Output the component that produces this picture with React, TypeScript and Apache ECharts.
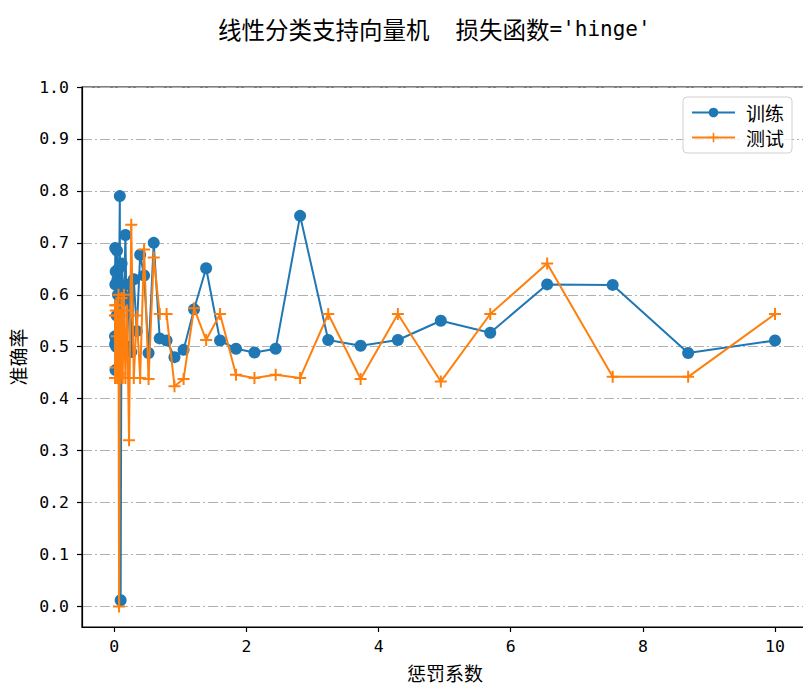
import React, { useEffect, useRef } from "react";
import * as echarts from "echarts";

const penaltyC = [
  0.01, 0.01151, 0.01326, 0.01526, 0.01758, 0.02024, 0.0233, 0.02683, 0.03089, 0.03556,
  0.04095, 0.04715, 0.05429, 0.06251, 0.07197, 0.08286, 0.09541, 0.10985, 0.12649, 0.14563,
  0.16768, 0.19307, 0.2223, 0.25595, 0.29471, 0.33932, 0.39069, 0.44984, 0.51795, 0.59636,
  0.68665, 0.7906, 0.9103, 1.04811, 1.20679, 1.3895, 1.59986, 1.84207, 2.12095, 2.44205,
  2.81177, 3.23746, 3.72759, 4.29193, 4.94171, 5.68987, 6.55129, 7.54312, 8.68511, 10.0,
];

const trainAcc = [
  0.52, 0.505, 0.69, 0.62, 0.455, 0.645, 0.51, 0.62, 0.5, 0.56,
  0.685, 0.63, 0.6, 0.65, 0.62, 0.79, 0.012, 0.66, 0.6, 0.59,
  0.715, 0.5, 0.62, 0.49, 0.63, 0.53, 0.677, 0.637, 0.488, 0.7,
  0.516, 0.512, 0.48, 0.494, 0.572, 0.651, 0.512, 0.496, 0.489, 0.496,
  0.752, 0.513, 0.502, 0.513, 0.55, 0.527, 0.62, 0.619, 0.488, 0.512,
];

const testAcc = [
  0.56, 0.44, 0.58, 0.44, 0.56, 0.46, 0.57, 0.44, 0.58, 0.52,
  0.44, 0.56, 0.44, 0.6, 0.0, 0.56, 0.44, 0.594, 0.44, 0.6,
  0.44, 0.57, 0.32, 0.735, 0.44, 0.56, 0.44, 0.687, 0.438, 0.672,
  0.563, 0.563, 0.424, 0.438, 0.574, 0.513, 0.563, 0.446, 0.44, 0.446,
  0.44, 0.563, 0.438, 0.563, 0.433, 0.563, 0.66, 0.442, 0.442, 0.563,
];

const titleMain = "线性分类支持向量机";
const titleLoss = "损失函数";
const titleParam = "='hinge'";
const xName = "惩罚系数";
const yName = "准确率";
const seriesNames = ["训练", "测试"];

const CJK = "'Noto Sans CJK SC', 'DejaVu Sans', sans-serif";
const MONO = "'DejaVu Sans Mono', 'Noto Sans CJK SC', monospace";
const PLUS = "path://M-1,-6 L1,-6 L1,-1 L6,-1 L6,1 L1,1 L1,6 L-1,6 L-1,1 L-6,1 L-6,-1 L-1,-1 Z";

export default function App() {
  const ref = useRef<HTMLDivElement>(null);
  useEffect(() => {
    document.body.style.margin = "0";
    const chart = echarts.init(ref.current!, null, { renderer: "svg" });
    const train = penaltyC.map((c, i) => [c, trainAcc[i]]);
    const test = penaltyC.map((c, i) => [c, testAcc[i]]);
    chart.setOption({
      animation: false,
      backgroundColor: "#fff",
      textStyle: { fontFamily: CJK },
      title: {
        text: `{c|${titleMain}}{g|}{c|${titleLoss}}{m|${titleParam}}`,
        left: 213,
        top: 12,
        textStyle: {
          fontFamily: CJK,
          fontSize: 23.5,
          fontWeight: "normal",
          color: "#000",
          rich: {
            c: { fontFamily: CJK, fontSize: 23.5, color: "#000" },
            g: { width: 26, fontSize: 23.5 },
            m: { fontFamily: MONO, fontSize: 21, color: "#000" },
          },
        },
      },
      grid: {
        left: 82,
        top: 87,
        width: 726,
        bottom: 59,
        outerBoundsMode: "none",
        containLabel: false,
        show: true,
        borderColor: "#000",
        borderWidth: 1.2,
        backgroundColor: "transparent",
      },
      legend: {
        orient: "vertical",
        left: 683,
        top: 97,
        padding: [6, 8, 6, 8],
        itemWidth: 43,
        itemHeight: 12,
        itemGap: 6,
        borderColor: "#d0d0d0",
        borderWidth: 1,
        borderRadius: 4,
        backgroundColor: "rgba(255,255,255,0.8)",
        textStyle: { fontFamily: CJK, fontSize: 19, color: "#000", padding: [0, 0, 0, 6] },
        data: seriesNames,
      },
      xAxis: {
        type: "value",
        min: -0.4895,
        max: 10.4995,
        splitNumber: 5,
        name: xName,
        nameLocation: "middle",
        nameGap: 36,
        nameTextStyle: { fontFamily: CJK, fontSize: 19, color: "#000" },
        axisLine: { show: true, onZero: false, lineStyle: { color: "#000", width: 1.2 } },
        axisTick: { show: true, length: 5, lineStyle: { color: "#000", width: 1.2 } },
        axisLabel: {
          showMinLabel: false,
          showMaxLabel: false,
          margin: 11,
          fontFamily: MONO,
          fontSize: 16.5,
          color: "#000",
          formatter: (v: number) => (Number.isInteger(v) ? String(v) : ""),
        },
        splitLine: { show: false },
      },
      yAxis: {
        type: "value",
        min: -0.0395,
        max: 1.0,
        splitNumber: 10,
        name: yName,
        nameLocation: "middle",
        nameGap: 55,
        nameRotate: 90,
        nameTextStyle: { fontFamily: CJK, fontSize: 19, color: "#000" },
        axisLine: { show: true, onZero: false, lineStyle: { color: "#000", width: 1.2 } },
        axisTick: { show: true, length: 5, lineStyle: { color: "#000", width: 1.2 } },
        axisLabel: {
          showMinLabel: false,
          margin: 13,
          fontFamily: MONO,
          fontSize: 16.5,
          color: "#000",
          formatter: (v: number) => (v < -0.001 ? "" : v.toFixed(1)),
        },
        splitLine: {
          show: true,
          lineStyle: { color: "#b0b0b0", width: 1, type: [10, 3, 2, 3] },
        },
      },
      series: [
        {
          name: seriesNames[0],
          type: "line",
          data: train,
          symbol: "circle",
          symbolSize: 12,
          showAllSymbol: true,
          lineStyle: { color: "#1f77b4", width: 2 },
          itemStyle: { color: "#1f77b4" },
          z: 2,
        },
        {
          name: seriesNames[1],
          type: "line",
          data: test,
          symbol: PLUS,
          symbolSize: 12,
          showAllSymbol: true,
          lineStyle: { color: "#ff7f0e", width: 2 },
          itemStyle: { color: "#ff7f0e" },
          z: 3,
        },
      ],
    });
    return () => chart.dispose();
  }, []);
  return <div ref={ref} style={{ width: 803, height: 686 }} />;
}
